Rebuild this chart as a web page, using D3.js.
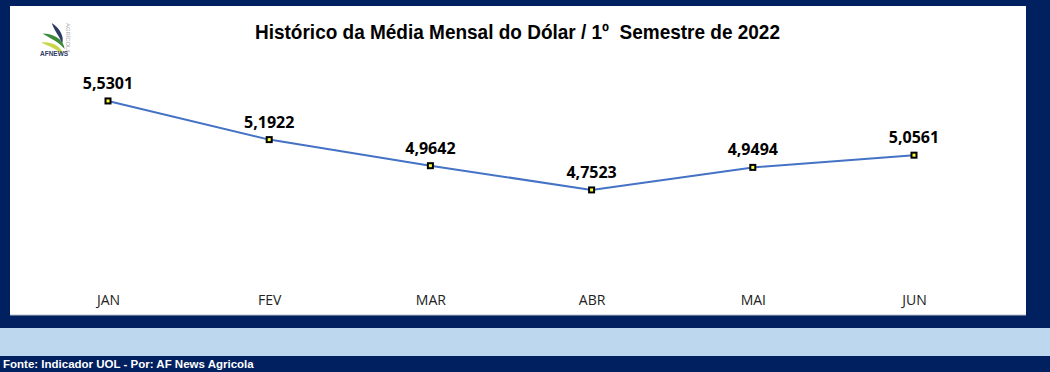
<!DOCTYPE html>
<html>
<head>
<meta charset="utf-8"/>
<title>Dólar 1º semestre 2022</title>
<style>
  body { margin: 0; background: #002060; }
  svg { display: block; }
  .title { font-family: "Liberation Sans Narrow", "Liberation Sans", Arial, sans-serif; font-weight: bold; font-size: 21px; fill: #000; white-space: pre; }
  .val { font-family: "Open Sans", "DejaVu Sans", sans-serif; font-weight: bold; font-size: 16px; fill: #000; }
  .cat { font-family: "Open Sans", "DejaVu Sans", sans-serif; font-size: 14px; fill: #222; }
  .foot { font-family: "Liberation Sans", Arial, sans-serif; font-weight: bold; font-size: 11.5px; fill: #fff; }
</style>
<script src="https://d3js.org/d3.v7.min.js"></script>
</head>
<body>
<svg id="chart" width="1050" height="372"></svg>
<script>
var months = ["JAN", "FEV", "MAR", "ABR", "MAI", "JUN"];
var dolar = [5.5301, 5.1922, 4.9642, 4.7523, 4.9494, 5.0561];

var svg = d3.select("#chart");

// background blocks
svg.append("rect").attr("x", 0).attr("y", 0).attr("width", 1050).attr("height", 372).attr("fill", "#002060");
svg.append("rect").attr("x", 10).attr("y", 6).attr("width", 1016).attr("height", 309).attr("fill", "#fff");
svg.append("line").attr("x1", 10).attr("x2", 1026).attr("y1", 315).attr("y2", 315).attr("stroke", "#b8c0cc");
svg.append("rect").attr("x", 0).attr("y", 328).attr("width", 1050).attr("height", 28).attr("fill", "#bdd7ee");

svg.append("text").attr("class", "title")
  .attr("x", 255).attr("y", 39)
  .attr("textLength", 525).attr("lengthAdjust", "spacingAndGlyphs")
  .text("Histórico da Média Mensal do Dólar / 1º  Semestre de 2022");

svg.append("text").attr("class", "foot").attr("x", 3).attr("y", 368)
  .text("Fonte: Indicador UOL - Por: AF News Agricola");

// little logo
var logo = svg.append("g").attr("transform", "translate(40,23) scale(1.3)");
logo.append("path").attr("d", "M9,0 C15,4 19,10 17,16 C15,10 11,6 9,0Z").attr("fill", "#2e3a66");
logo.append("path").attr("d", "M2,8 C10,8 18,12 19,20 C14,14 8,12 2,8Z").attr("fill", "#3a8a3a");
logo.append("path").attr("d", "M1,15 C9,14 17,18 18,25 C13,20 7,18 1,15Z").attr("fill", "#c9d64a");
logo.append("text").attr("x", 0).attr("y", 25).attr("font-family", "Liberation Sans, Arial").attr("font-weight", "bold")
  .attr("font-size", 5).attr("fill", "#2e3a66").text("AFNEWS");
logo.append("text").attr("transform", "translate(20,0) rotate(90)").attr("font-family", "Liberation Sans, Arial")
  .attr("font-size", 4.5).attr("fill", "#aaa").text("AGRÍCOLA");

// scales
var x = d3.scalePoint().domain(months).range([27.4, 994.6]).padding(0.5);
var y = d3.scaleLinear().domain([4.0, 6.0]).range([276.0, 47.2]);

var line = d3.line()
  .x(function(d, i) { return x(months[i]); })
  .y(function(d) { return y(d); });

svg.append("path").datum(dolar)
  .attr("d", line)
  .attr("fill", "none")
  .attr("stroke", "#4472c4")
  .attr("stroke-width", 2);

svg.selectAll(".mk").data(dolar).enter().append("rect")
  .attr("class", "mk")
  .attr("x", function(d, i) { return x(months[i]) - 2.5; })
  .attr("y", function(d) { return y(d) - 2.5; })
  .attr("width", 5).attr("height", 5)
  .attr("fill", "#ffff40").attr("stroke", "#000").attr("stroke-width", 2);

svg.selectAll(".val").data(dolar).enter().append("text")
  .attr("class", "val")
  .attr("x", function(d, i) { return x(months[i]); })
  .attr("y", function(d) { return y(d) - 12; })
  .attr("text-anchor", "middle")
  .text(function(d) { return d.toFixed(4).replace(".", ","); });

var xAxis = svg.append("g").attr("transform", "translate(0,305)")
  .call(d3.axisBottom(x).tickSize(0).tickPadding(0));
xAxis.select(".domain").remove();
xAxis.selectAll("text").attr("class", "cat").attr("font-family", null).attr("font-size", null).attr("dy", 0);
</script>
</body>
</html>
